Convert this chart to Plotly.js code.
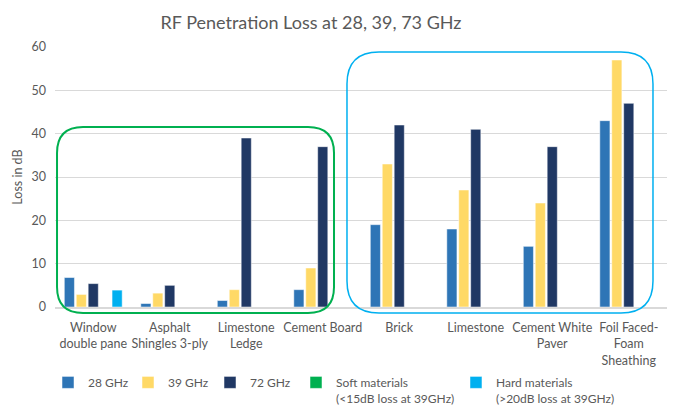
<!DOCTYPE html>
<html><head><meta charset="utf-8">
<script src="https://cdn.plot.ly/plotly-3.0.1.min.js"></script>
<style>html,body{margin:0;padding:0;background:#fff}#chart{width:678px;height:412px}</style>
</head><body><div id="chart"></div>
<script>
const categories = ["Window<br>double pane","Asphalt<br>Shingles 3-ply","Limestone<br>Ledge","Cement Board","Brick","Limestone","Cement White<br>Paver","Foil Faced-<br>Foam<br>Sheathing"];
const ghz28 = [6.8, 0.8, 1.5, 4, 19, 18, 14, 43];
const ghz39 = [2.9, 3.2, 4, 9, 33, 27, 24, 57];
const ghz72 = [5.4, 5, 39, 37, 42, 41, 37, 47];
const soft = [null, null, null, null, null, null, null, null];
const hard = [3.9, null, null, null, null, null, null, null];
const yTicks = [0, 10, 20, 30, 40, 50, 60];

const txt = '#595959';
const font = 'Lato, "Open Sans", sans-serif';
const edge = {color: 'rgba(255,255,255,0.5)', width: 1};

const traces = [
  {type:'bar', name:'28 GHz', x:categories, y:ghz28, marker:{color:'#2E75B6', line:edge}, legend:'legend'},
  {type:'bar', name:'39 GHz', x:categories, y:ghz39, marker:{color:'#FFD966', line:edge}, legend:'legend2'},
  {type:'bar', name:'72 GHz', x:categories, y:ghz72, marker:{color:'#203864', line:edge}, legend:'legend3'},
  {type:'bar', name:'Soft materials<br>(<15dB loss at 39GHz)', x:categories, y:soft, marker:{color:'#00B050', line:edge}, legend:'legend4'},
  {type:'bar', name:'Hard materials<br>(>20dB loss at 39GHz)', x:categories, y:hard, marker:{color:'#00B0F0', line:edge}, legend:'legend5'}
];

// plot area in px
const L = 55, R = 667, T = 47, B = 307;
const W = R - L, H = B - T;
function px(x){ return ((x - L) / W).toFixed(4); }
function py(y){ return ((B - y) / H).toFixed(4); }
function roundRect(x0, y0, x1, y1, r){
  return 'M' + px(x0 + r) + ',' + py(y0) +
    ' L' + px(x1 - r) + ',' + py(y0) +
    ' Q' + px(x1) + ',' + py(y0) + ' ' + px(x1) + ',' + py(y0 + r) +
    ' L' + px(x1) + ',' + py(y1 - r) +
    ' Q' + px(x1) + ',' + py(y1) + ' ' + px(x1 - r) + ',' + py(y1) +
    ' L' + px(x0 + r) + ',' + py(y1) +
    ' Q' + px(x0) + ',' + py(y1) + ' ' + px(x0) + ',' + py(y1 - r) +
    ' L' + px(x0) + ',' + py(y0 + r) +
    ' Q' + px(x0) + ',' + py(y0) + ' ' + px(x0 + r) + ',' + py(y0) + ' Z';
}

function leg(xpx){
  return {x: px(xpx) * 1, xanchor:'left', y: -0.235, yanchor:'top', orientation:'h',
    font:{family:font, size:12, color:txt}, bgcolor:'rgba(0,0,0,0)', valign:'top', itemwidth:30,
    tracegroupgap:0};
}

const layout = {
  width:678, height:412,
  margin:{l:L, r:678-R, t:T, b:412-B, autoexpand:false},
  paper_bgcolor:'#fff', plot_bgcolor:'#fff',
  font:{family:font, color:txt, size:12},
  title:{text:'RF Penetration Loss at 28, 39, 73 GHz', font:{family:font, size:18, color:txt},
    x:(311 - L)/W, xref:'paper', xanchor:'center', y:0.945, yanchor:'middle'},
  barmode:'group', bargap:0.22, bargroupgap:0.15,
  xaxis:{type:'category', tickfont:{family:font, size:12.5, color:txt}, ticks:'', showgrid:false, automargin:false,
    showline:true, linecolor:'#D9D9D9', linewidth:2, ticklabelstandoff:8, fixedrange:true},
  yaxis:{range:[0,60], tickvals:yTicks, tickfont:{family:font, size:12.5, color:txt}, ticks:'', automargin:false,
    gridcolor:'#D9D9D9', gridwidth:1, zeroline:false, showline:false, ticklabelstandoff:8,
    title:{text:'Loss in dB', font:{family:font, size:12.5, color:txt}, standoff:6}, fixedrange:true},
  showlegend:true,
  legend: leg(48),
  legend2: leg(128),
  legend3: leg(210),
  legend4: leg(296),
  legend5: leg(456),
  shapes:[
    {type:'path', xref:'paper', yref:'paper', path:roundRect(57,127,334,313,26), line:{color:'#00B050', width:2}},
    {type:'path', xref:'paper', yref:'paper', path:roundRect(347,52,653,313,32), line:{color:'#00B0F0', width:1.5}}
  ]
};

Plotly.newPlot('chart', traces, layout, {displayModeBar:false, staticPlot:true});
</script>
</body></html>
